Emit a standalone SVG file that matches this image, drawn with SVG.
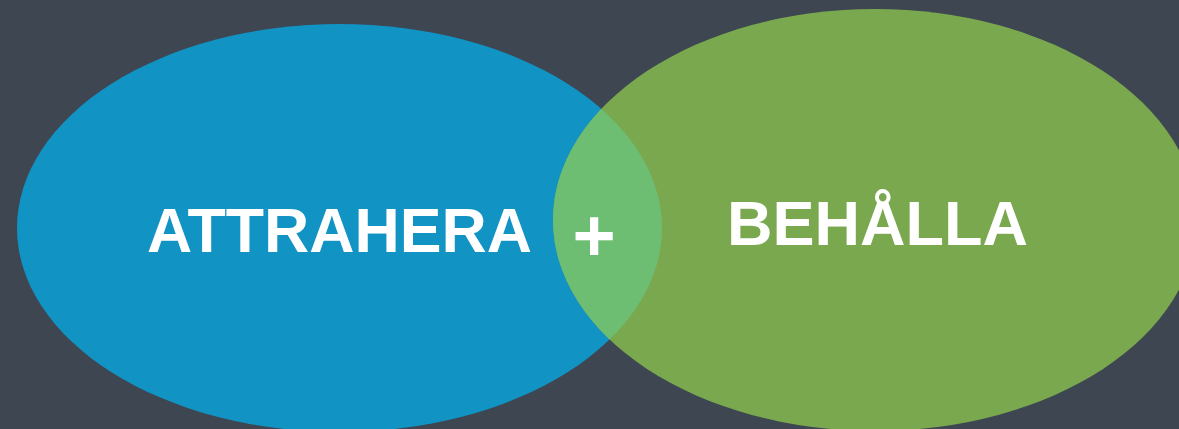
<svg xmlns="http://www.w3.org/2000/svg" width="1179" height="429" viewBox="0 0 1179 429">
  <style>
    .lbl { font-family: "Liberation Sans", Arial, sans-serif; font-weight: bold; fill: #ffffff; }
  </style>
  <defs>
    <clipPath id="clipBlue">
      <ellipse cx="339.5" cy="228" rx="322.5" ry="204"/>
    </clipPath>
  </defs>
  <rect x="0" y="0" width="1179" height="429" fill="#3d4651"/>
  <g id="node-attrahera">
    <ellipse cx="339.5" cy="228" rx="322.5" ry="204" fill="#1193c4"/>
  </g>
  <g id="node-behalla">
    <ellipse cx="875" cy="220" rx="322" ry="211" fill="#7aa84f"/>
  </g>
  <g id="overlap">
    <ellipse cx="875" cy="220" rx="322" ry="211" fill="#6dbd72" clip-path="url(#clipBlue)"/>
  </g>
  <g id="labels">
    <text class="lbl" x="147" y="252" font-size="63" textLength="385" lengthAdjust="spacingAndGlyphs">ATTRAHERA</text>
    <text class="lbl" x="594" y="261" font-size="74" text-anchor="middle">+</text>
    <text class="lbl" x="727" y="245" font-size="63">BEHÅLLA</text>
  </g>
  <g id="connectors"/>
</svg>
